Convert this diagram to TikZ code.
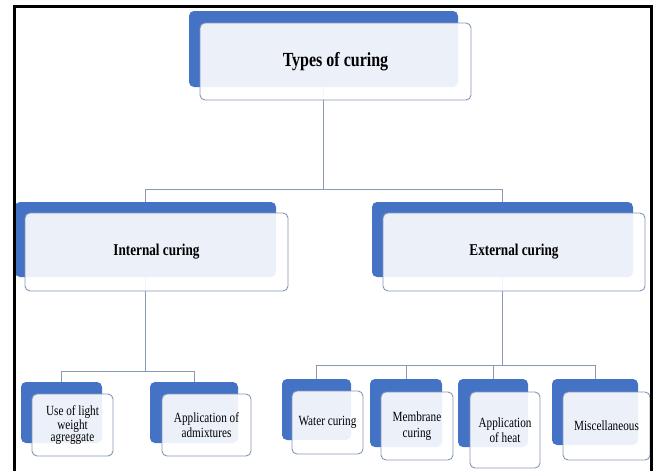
\documentclass[tikz,border=0pt]{standalone}
\usepackage{fontspec}
\setmainfont{Liberation Serif}[FakeStretch=0.8]
\usetikzlibrary{backgrounds}

\definecolor{curblue}{RGB}{68,114,196}
\definecolor{curedge}{RGB}{132,150,184}
\definecolor{curline}{RGB}{138,152,178}

\begin{document}
\begin{tikzpicture}[
    x=1pt, y=-1pt,
    backbox/.style={
        fill=curblue,
        rounded corners=5pt,
        inner sep=0pt
    },
    frontbox/.style={
        draw=curedge,
        line width=0.9pt,
        fill=white,
        fill opacity=0.9,
        text opacity=1,
        rounded corners=5pt,
        inner sep=2pt,
        align=center,
        font=\fontsize{14}{15.5}\selectfont
    },
    headbox/.style={frontbox, font=\fontsize{16.5}{19}\selectfont\bfseries},
    topbox/.style={frontbox, font=\fontsize{20}{23}\selectfont\bfseries},
    conn/.style={draw=curline, line width=0.9pt}
]
\useasboundingbox (0,0) rectangle (654,471);

% blue back plates
\node[backbox, minimum width=269pt, minimum height=76pt] (topb) at (323.5,49) {};
\node[backbox, minimum width=261pt, minimum height=75pt] (intb) at (145.5,239.5) {};
\node[backbox, minimum width=261pt, minimum height=75pt] (extb) at (502.5,239.5) {};
\node[backbox, minimum width=81pt, minimum height=61pt] (useb) at (61.5,412.5) {};
\node[backbox, minimum width=88pt, minimum height=61pt] (admb) at (194,412.5) {};
\node[backbox, minimum width=69pt, minimum height=61pt] (watb) at (316.5,409.5) {};
\node[backbox, minimum width=72pt, minimum height=68pt] (memb) at (406,413) {};
\node[backbox, minimum width=70pt, minimum height=68pt] (heatb) at (493,413) {};
\node[backbox, minimum width=86pt, minimum height=66pt] (miscb) at (595,412) {};

% front boxes
\node[topbox, minimum width=271pt, minimum height=77pt] (top) at (335.5,61.5) {Types of curing};
\node[headbox, minimum width=263pt, minimum height=78pt] (int) at (156.5,252) {Internal curing};
\node[headbox, minimum width=262pt, minimum height=78pt] (ext) at (514,252) {External curing};
\node[frontbox, minimum width=81pt, minimum height=62pt, font=\fontsize{14}{12.5}\selectfont] (use) at (72.5,425) {Use of light\\weight\\agreggate};
\node[frontbox, minimum width=89pt, minimum height=62pt] (adm) at (206.5,425) {Application of\\admixtures};
\node[frontbox, minimum width=71pt, minimum height=63pt] (wat) at (327.5,422.5) {Water curing};
\node[frontbox, minimum width=72pt, minimum height=68pt] (mem) at (417,426) {Membrane\\curing};
\node[frontbox, minimum width=70pt, minimum height=76pt] (heat) at (505,430) {Application\\of heat};
\node[frontbox, minimum width=87pt, minimum height=68pt] (misc) at (606.5,426) {Miscellaneous};

\coordinate (split0) at (323.5,189);
\coordinate (split1) at (145.5,371);
\coordinate (split2) at (502.5,365);

\begin{scope}[on background layer]
\draw[conn] (topb.south) -- (split0) -| (intb.north);
\draw[conn] (split0) -| (extb.north);
\draw[conn] (intb.south) -- (split1) -| (useb.north);
\draw[conn] (split1) -| (admb.north);
\draw[conn] (extb.south) -- (split2) -| (watb.north);
\draw[conn] (split2) -| (memb.north);
\draw[conn] (split2) -| (heatb.north);
\draw[conn] (split2) -| (miscb.north);
\end{scope}

% outer frame
\draw[line width=2.2pt] (14.5,471) -- (14.5,6.5) -- (651.5,6.5) -- (651.5,471);

\end{tikzpicture}
\end{document}
